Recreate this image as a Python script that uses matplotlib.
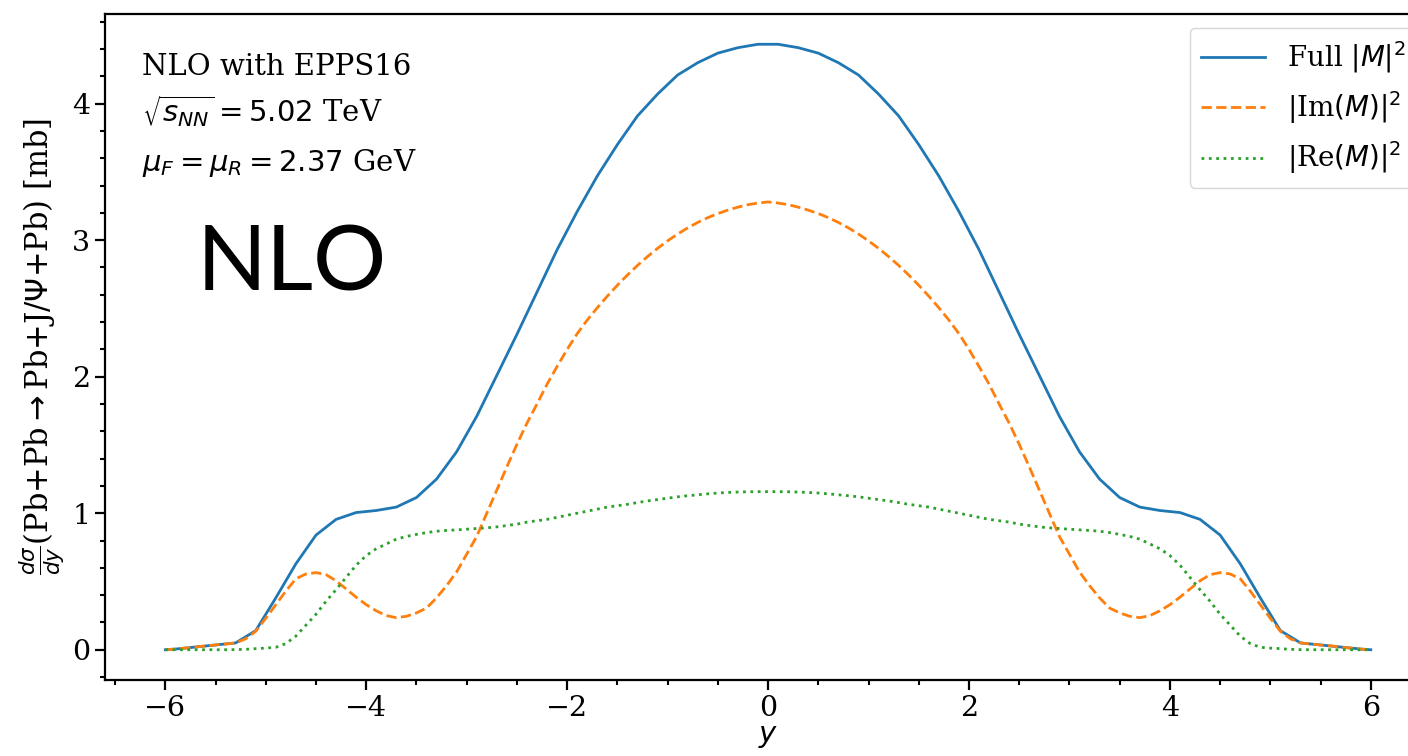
import numpy as np
import matplotlib
matplotlib.use("Agg")
import matplotlib.pyplot as plt
from matplotlib.ticker import MultipleLocator

plt.rcParams['font.family'] = 'serif'
plt.rcParams['font.serif'] = ['DejaVu Serif']
plt.rcParams['mathtext.fontset'] = 'dejavusans'

# rapidity grid of the full |M|^2 curve (odd tenths + end points)
y_full = [-6.0, -5.9, -5.7, -5.5, -5.3, -5.1, -4.9, -4.7, -4.5, -4.3, -4.1,
          -3.9, -3.7, -3.5, -3.3, -3.1, -2.9, -2.7, -2.5, -2.3, -2.1,
          -1.9, -1.7, -1.5, -1.3, -1.1, -0.9, -0.7, -0.5, -0.3, -0.1,
          0.1, 0.3, 0.5, 0.7, 0.9, 1.1, 1.3, 1.5, 1.7, 1.9,
          2.1, 2.3, 2.5, 2.7, 2.9, 3.1, 3.3, 3.5, 3.7, 3.9,
          4.1, 4.3, 4.5, 4.7, 4.9, 5.1, 5.3, 5.5, 5.7, 5.9, 6.0]
full = [0.0, 0.005, 0.02, 0.035, 0.05, 0.14, 0.38, 0.63, 0.84, 0.955, 1.005,
        1.02, 1.045, 1.115, 1.25, 1.45, 1.71, 2.01, 2.31, 2.62, 2.93,
        3.21, 3.47, 3.70, 3.91, 4.07, 4.21, 4.30, 4.37, 4.41, 4.435,
        4.435, 4.41, 4.37, 4.30, 4.21, 4.07, 3.91, 3.70, 3.47, 3.21,
        2.93, 2.62, 2.31, 2.01, 1.71, 1.45, 1.25, 1.115, 1.045, 1.02,
        1.005, 0.955, 0.84, 0.63, 0.38, 0.14, 0.05, 0.035, 0.02, 0.005, 0.0]

# finer grid for Im and Re parts
y_fine = np.round(np.arange(-6.0, 6.001, 0.1), 1)
im_part = [0.0, 0.005, 0.012, 0.02, 0.028, 0.035, 0.042, 0.05, 0.08, 0.135,
           0.23, 0.33, 0.43, 0.52, 0.555, 0.565, 0.55, 0.505, 0.445, 0.385,
           0.33, 0.285, 0.25, 0.235, 0.245, 0.27, 0.305, 0.38, 0.47, 0.57,
           0.70, 0.83, 1.00, 1.17, 1.34, 1.505, 1.66, 1.80, 1.945, 2.075,
           2.20, 2.315, 2.415, 2.505, 2.59, 2.67, 2.745, 2.815, 2.88, 2.94,
           2.995, 3.045, 3.09, 3.13, 3.165, 3.195, 3.22, 3.242, 3.26, 3.272,
           3.28,
           3.272, 3.26, 3.242, 3.22, 3.195, 3.165, 3.13, 3.09, 3.045, 2.995,
           2.94, 2.88, 2.815, 2.745, 2.67, 2.59, 2.505, 2.415, 2.315, 2.20,
           2.075, 1.945, 1.80, 1.66, 1.505, 1.34, 1.17, 1.00, 0.83, 0.70,
           0.57, 0.47, 0.38, 0.305, 0.27, 0.245, 0.235, 0.25, 0.285, 0.33,
           0.385, 0.445, 0.505, 0.55, 0.565, 0.555, 0.52, 0.43, 0.33, 0.23,
           0.135, 0.08, 0.05, 0.042, 0.035, 0.028, 0.02, 0.012, 0.005, 0.0]
re_part = [0.0, 0.0, 0.0, 0.0, 0.0, 0.0, 0.0, 0.001, 0.003, 0.008,
           0.012, 0.018, 0.045, 0.10, 0.18, 0.26, 0.355, 0.44, 0.53, 0.62,
           0.69, 0.74, 0.775, 0.81, 0.83, 0.845, 0.858, 0.868, 0.874, 0.878,
           0.883, 0.888, 0.893, 0.90, 0.91, 0.92, 0.935, 0.945, 0.955, 0.97,
           0.985, 1.0, 1.015, 1.03, 1.045, 1.055, 1.065, 1.078, 1.09, 1.10,
           1.11, 1.12, 1.128, 1.135, 1.142, 1.148, 1.152, 1.155, 1.157, 1.158,
           1.158,
           1.158, 1.157, 1.155, 1.152, 1.148, 1.142, 1.135, 1.128, 1.12, 1.11,
           1.10, 1.09, 1.078, 1.065, 1.055, 1.045, 1.03, 1.015, 1.0, 0.985,
           0.97, 0.955, 0.945, 0.935, 0.92, 0.91, 0.90, 0.893, 0.888, 0.883,
           0.878, 0.874, 0.868, 0.858, 0.845, 0.83, 0.81, 0.775, 0.74, 0.69,
           0.62, 0.53, 0.44, 0.355, 0.26, 0.18, 0.10, 0.045, 0.018, 0.012,
           0.008, 0.003, 0.001, 0.0, 0.0, 0.0, 0.0, 0.0, 0.0, 0.0]

fig = plt.figure(figsize=(14.08, 7.56), dpi=100)
ax = fig.add_axes([0.0746, 0.1005, 0.9418, 0.881])

ax.plot(y_full, full, '-', color='#1f77b4', lw=2, label=r'Full $|M|^2$')
ax.plot(y_fine, im_part, '--', color='#ff7f0e', lw=2, label=r'|Im$(M)|^2$')
ax.plot(y_fine, re_part, ':', color='#2ca02c', lw=2, label=r'|Re$(M)|^2$')

ax.xaxis.set_minor_locator(MultipleLocator(0.5))
ax.yaxis.set_minor_locator(MultipleLocator(0.2))
ax.tick_params(which='major', length=7, width=1.6, labelsize=20.5)
ax.tick_params(which='minor', length=3.5, width=1.5)
for s in ax.spines.values():
    s.set_linewidth(1.6)

ax.set_xlabel(r'$y$', fontsize=21, labelpad=0)
ax.set_ylabel(r'$\frac{d\sigma}{dy}$(Pb+Pb$\rightarrow$Pb+J/$\Psi$+Pb) [mb]',
              fontsize=22, labelpad=4)

ax.text(0.028, 0.908, 'NLO with EPPS16', transform=ax.transAxes, fontsize=21)
ax.text(0.028, 0.838, r'$\sqrt{s_{NN}}=5.02$ TeV', transform=ax.transAxes, fontsize=21)
ax.text(0.028, 0.765, r'$\mu_F=\mu_R=2.37$ GeV', transform=ax.transAxes, fontsize=21)
ax.text(0.069, 0.585, 'NLO', transform=ax.transAxes, fontsize=66,
        family=['Lato', 'DejaVu Sans'])

ax.legend(loc='upper right', fontsize=20, handlelength=2.3)

fig.savefig('out.png', dpi=100)
